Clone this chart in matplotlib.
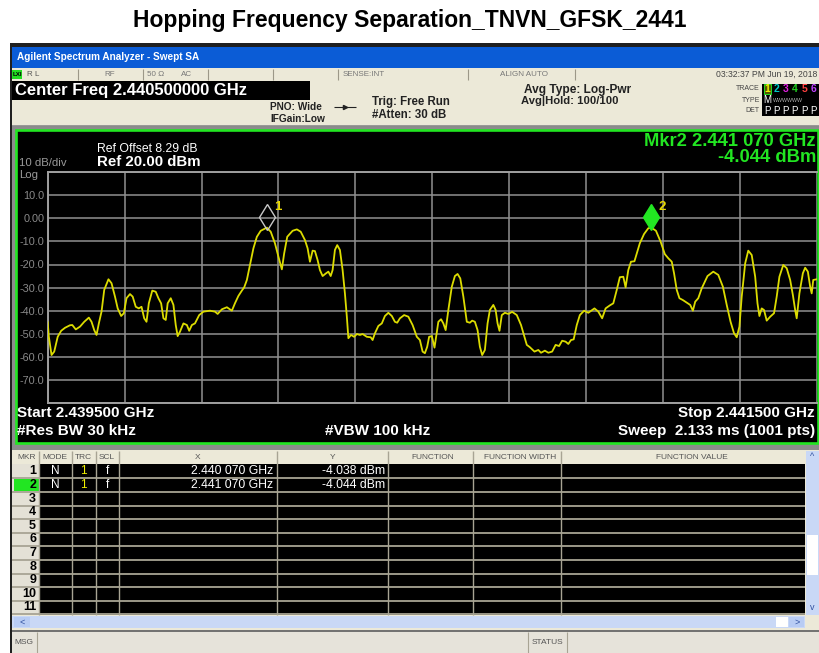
import matplotlib
matplotlib.use('Agg')
import matplotlib.pyplot as plt
import numpy as np
from matplotlib.patches import Rectangle
from matplotlib.transforms import offset_copy

plt.rcParams['font.family'] = ['Liberation Sans', 'DejaVu Sans']

# trace: offset from start freq (kHz) and level (dBm)
offset_khz = [0, 3, 10, 17, 26, 35, 45, 58, 64, 73, 84, 95, 107, 114, 121, 127,
              133, 140, 147, 158, 166, 175, 182, 191, 198, 205, 214, 221, 229, 237,
              244, 251, 257, 263, 272, 281, 288, 295, 301, 307, 312, 320, 327, 333,
              338, 344, 353, 362, 368, 375, 383, 394, 405, 422, 435, 442, 453, 466,
              479, 487, 496, 505, 511, 518, 526, 535, 544, 554, 570, 580, 591, 600,
              609, 615, 623, 637, 648, 658, 669, 676, 682, 689, 695, 702, 708, 715,
              724, 730, 736, 741, 747, 753, 760, 767, 773, 778, 782, 789, 797, 804,
              812, 819, 830, 840, 845, 851, 860, 869, 877, 886, 895, 903, 909, 916,
              927, 938, 949, 960, 968, 975, 981, 987, 992, 999, 1006, 1016, 1023,
              1029, 1035, 1042, 1051, 1059, 1066, 1073, 1081, 1090, 1098, 1104, 1111,
              1118, 1124, 1130, 1137, 1144, 1150, 1159, 1165, 1170, 1175, 1181, 1189,
              1198, 1208, 1220, 1231, 1240, 1246, 1254, 1266, 1276, 1283, 1293, 1302,
              1312, 1321, 1330, 1338, 1347, 1354, 1361, 1368, 1376, 1384, 1395, 1406,
              1422, 1432, 1442, 1451, 1462, 1471, 1480, 1488, 1497, 1503, 1510, 1517,
              1526, 1532, 1540, 1551, 1562, 1570, 1582, 1594, 1605, 1614, 1623, 1629,
              1636, 1643, 1652, 1662, 1671, 1678, 1684, 1692, 1701, 1716, 1731, 1744,
              1756, 1766, 1776, 1785, 1792, 1799, 1805, 1814, 1822, 1831, 1840, 1846,
              1851, 1857, 1863, 1870, 1879, 1889, 1896, 1903, 1913, 1922, 1931, 1938,
              1944, 1948, 1955, 1964, 1970, 1977, 1983, 1987, 1991, 2000]
level_dbm = [-45.0, -51.3, -59.2, -57.7, -51.3, -48.7, -47.4, -46.3, -46.2, -48.1,
             -46.9, -44.8, -43.0, -44.8, -48.4, -50.5, -45.5, -40.4, -31.0, -26.4,
             -28.1, -33.9, -39.0, -42.3, -41.1, -34.6, -32.8, -33.9, -38.3, -39.0,
             -38.3, -43.3, -44.8, -36.8, -31.3, -31.8, -34.6, -36.8, -43.3, -44.0,
             -36.8, -34.6, -37.5, -46.2, -51.0, -49.1, -45.5, -46.2, -48.7, -46.2,
             -45.5, -41.9, -40.4, -40.0, -40.4, -41.4, -39.4, -38.5, -40.0, -36.8,
             -33.6, -31.3, -29.9, -26.7, -20.2, -13.0, -8.0, -5.4, -4.04, -5.8,
             -10.8, -16.6, -22.1, -15.2, -8.0, -5.4, -4.8, -5.8, -9.4, -13.0, -18.8,
             -14.0, -14.2, -18.1, -22.4, -25.0, -23.8, -23.1, -25.0, -22.4, -13.7,
             -11.6, -13.7, -22.4, -32.5, -42.6, -51.9, -50.5, -51.3, -50.1, -50.5,
             -50.1, -51.3, -51.5, -52.7, -49.8, -46.6, -45.5, -42.3, -40.9, -42.3,
             -44.8, -45.2, -43.3, -41.9, -42.6, -46.2, -51.3, -52.7, -57.7, -58.4,
             -55.6, -51.3, -51.0, -56.0, -44.8, -43.7, -45.5, -48.4, -39.7, -29.6,
             -25.0, -24.1, -26.0, -33.9, -44.8, -45.2, -44.3, -44.8, -48.4, -55.6,
             -59.2, -57.0, -45.5, -39.7, -37.5, -39.7, -45.5, -48.7, -41.9, -40.9,
             -41.4, -40.5, -41.9, -46.2, -51.3, -54.8, -55.8, -57.7, -57.0, -58.2,
             -57.3, -58.2, -57.7, -54.8, -55.3, -53.0, -53.4, -54.4, -52.7, -52.4,
             -46.2, -41.9, -40.0, -40.9, -39.0, -40.4, -43.3, -39.0, -37.7, -36.8,
             -31.0, -25.5, -25.3, -29.9, -22.4, -18.8, -18.6, -15.2, -10.8, -6.8,
             -4.3, -4.044, -5.4, -10.1, -15.5, -17.3, -18.8, -23.8, -31.0, -34.6,
             -35.4, -36.5, -37.5, -40.0, -36.1, -34.6, -30.3, -25.0, -23.1, -24.5,
             -29.6, -37.5, -44.8, -49.8, -51.5, -46.9, -33.9, -19.5, -14.0, -15.9,
             -25.3, -36.8, -42.3, -39.0, -39.7, -44.3, -42.6, -41.1, -33.9, -25.3,
             -20.2, -21.6, -26.7, -33.2, -39.7, -43.3, -32.5, -23.8, -21.4, -23.1,
             -29.6, -32.5, -26.7, -26.4]

start_ghz = 2.4395
stop_ghz = 2.4415
ref_level = 20
bottom_level = -80

marker_freq = [2.440070, 2.441070]
marker_level = [-4.038, -4.044]
marker_x_text = ['2.440 070 GHz', '2.441 070 GHz']
marker_y_text = ['-4.038 dBm', '-4.044 dBm']

ytick_labels = ['', '-70.0', '-60.0', '-50.0', '-40.0', '-30.0', '-20.0', '-10.0',
                '0.00', '10.0', '']
table_cols = ['MKR', 'MODE', 'TRC', 'SCL', 'X', 'Y', 'FUNCTION', 'FUNCTION WIDTH',
              'FUNCTION VALUE']

BEIGE = '#ECE9D8'
W, H = 819, 653

fig = plt.figure(figsize=(W / 100, H / 100), dpi=100)
fig.patch.set_facecolor('white')
bg = fig.add_axes([0, 0, 1, 1])
bg.set_xlim(0, W)
bg.set_ylim(H, 0)
bg.axis('off')


def box(x0, y0, x1, y1, fc, ec='none', lw=0, z=1):
    bg.add_patch(Rectangle((x0, y0), x1 - x0, y1 - y0, facecolor=fc,
                           edgecolor=ec, linewidth=lw, zorder=z))


def txt(x, y, s, size=7, color='black', weight='normal', ha='left', z=5, **kw):
    bg.text(x, y, s, fontsize=size, color=color, fontweight=weight, ha=ha,
            va='center', zorder=z, **kw)


def line(xs, ys, color, lw=0.8, z=3):
    bg.plot(xs, ys, color=color, lw=lw, zorder=z, solid_capstyle='butt')


# title
txt(410, 21, 'Hopping Frequency Separation_TNVN_GFSK_2441', size=16.5,
    weight='bold', ha='center')

# window frame
box(10, 43, 819, 653, '#202020')
box(12, 47, 819, 68, '#0B5CD6')
txt(17, 57.5, 'Agilent Spectrum Analyzer - Swept SA', size=7.2, color='white',
    weight='bold')

# status row
box(12, 68, 819, 80, BEIGE)
box(12, 70, 22, 79, '#22DD22', z=2)
txt(17, 74.5, 'LXI', size=4.5, weight='bold', ha='center')
for sx in [78, 143, 208, 273, 338, 468, 575]:
    line([sx, sx], [69, 80], '#9c9888')
txt(27, 74.5, 'R L', size=5.8, color='#555555')
txt(110, 74.5, 'RF', size=5.8, color='#777777', ha='center')
txt(147, 74.5, '50 Ω', size=5.8, color='#777777')
txt(187, 74.5, 'AC', size=5.8, color='#777777', ha='center')
txt(343, 74.5, 'SENSE:INT', size=5.8, color='#777777')
txt(500, 74.5, 'ALIGN AUTO', size=5.8, color='#777777')
txt(817, 74.5, '03:32:37 PM Jun 19, 2018', size=6.2, color='#444444', ha='right')

# info panel
box(12, 80, 819, 126, BEIGE)
line([12, 819], [125.5, 125.5], '#8a8a8a', lw=1.2)
box(12, 81, 310, 100, 'black', z=2)
txt(15, 91, 'Center Freq 2.440500000 GHz', size=12, color='white', weight='bold')
txt(270, 107, 'PNO: Wide', size=7.3, weight='bold', color='#222222')
txt(270, 118.5, 'IFGain:Low', size=7.3, weight='bold', color='#222222')
line([334, 356], [107, 107], '#222222', lw=0.8)
bg.plot([345], [107], marker='>', ms=3, color='#222222', zorder=4)
txt(372, 102.5, 'Trig: Free Run', size=8.3, weight='bold', color='#222222')
txt(372, 115, '#Atten: 30 dB', size=8.3, weight='bold', color='#222222')
txt(578, 90, 'Avg Type: Log-Pwr', size=8.6, weight='bold', color='#222222', ha='center')
txt(570, 101.5, 'Avg|Hold: 100/100', size=8.1, weight='bold', color='#222222',
    ha='center')
txt(760, 88.5, 'TRACE', size=5, color='#444444', ha='right')
txt(760, 100, 'TYPE', size=5, color='#444444', ha='right')
txt(760, 111, 'DET', size=5, color='#444444', ha='right')
box(762, 84, 819, 116, 'black', z=2)
trace_colors = ['#F0F000', '#00C8C8', '#E020E0', '#20D020', '#FF4040', '#C040FF']
for i, c in enumerate(trace_colors):
    tx = 767 + i * 9.3
    if i == 0:
        box(tx - 3.5, 83.5, tx + 3.5, 93.5, '#555500', ec='#22DD22', lw=0.7, z=3)
    txt(tx, 88.5, str(i + 1), size=7.5, color=c, weight='bold', ha='center')
    txt(tx, 111, 'P', size=7, color='white', ha='center')
txt(767, 100, 'M', size=7, color='white', ha='center')
txt(773, 100, 'WWWWWW', size=3.8, color='#b0b0b0')

# plot panel
box(12, 126, 819, 450, '#8c8c8c')
box(15.5, 129.5, 817.5, 442.5, 'black', ec='#22E622', lw=1.9, z=2)
txt(97, 148.5, 'Ref Offset 8.29 dB', size=8.8, color='white')
txt(97, 162.5, 'Ref 20.00 dBm', size=10.8, color='white', weight='bold')
txt(19, 163.5, '10 dB/div', size=8.2, color='#9a9a9a')
txt(19, 175, 'Log', size=8.2, color='#9a9a9a')
txt(816, 141, 'Mkr2 2.441 070 GHz', size=13.2, color='#22E622', weight='bold',
    ha='right')
txt(816, 158, '-4.044 dBm', size=13.2, color='#22E622', weight='bold', ha='right')
txt(17, 413, 'Start 2.439500 GHz', size=11, color='white', weight='bold')
txt(17, 431, '#Res BW 30 kHz', size=11, color='white', weight='bold')
txt(378, 431, '#VBW 100 kHz', size=11, color='white', weight='bold', ha='center')
txt(815, 413, 'Stop 2.441500 GHz', size=11, color='white', weight='bold',
    ha='right')
txt(815, 431, 'Sweep  2.133 ms (1001 pts)', size=11, color='white', weight='bold',
    ha='right')

# spectrum axes
gx0, gx1, gy0, gy1 = 47.7, 816.7, 172.1, 403.1
ax = fig.add_axes([gx0 / W, (H - gy1) / H, (gx1 - gx0) / W, (gy1 - gy0) / H])
ax.set_facecolor('black')
ax.set_xlim(start_ghz, stop_ghz)
ax.set_ylim(bottom_level, ref_level)
ax.set_xticks(np.linspace(start_ghz, stop_ghz, 11))
ax.set_yticks(range(bottom_level, ref_level + 1, 10))
ax.set_xticklabels([])
ax.set_yticklabels(ytick_labels)
ax.tick_params(length=0, pad=2.5, labelsize=7.8, labelcolor='#8a8a8a')
ax.grid(True, color='#909090', lw=1.1)
for sp in ax.spines.values():
    sp.set_color('#a0a0a0')
    sp.set_linewidth(1.4)
ax.spines['right'].set_visible(False)
freq_ghz = [start_ghz + k * 1e-6 for k in offset_khz]
ax.plot(freq_ghz, level_dbm, color='#DCDC00', lw=1.3, zorder=4)

up = offset_copy(ax.transData, fig=fig, x=0, y=8, units='points')
ax.plot(marker_freq[0], marker_level[0], marker='d', ms=13.5, mfc='none',
        mec='#c8c8c8', mew=1.0, transform=up, zorder=5)
ax.plot(marker_freq[1], marker_level[1], marker='d', ms=13.5, mfc='#22E622',
        mec='#22E622', transform=up, zorder=5)
lab = offset_copy(ax.transData, fig=fig, x=8, y=15, units='points')
for i in range(2):
    ax.text(marker_freq[i], marker_level[i], str(i + 1), transform=lab,
            color='#E8D800', fontsize=9.5, fontweight='bold', ha='center',
            va='center', zorder=6)

# marker table
box(12, 450, 819, 630, BEIGE)
box(12, 451, 805, 464, BEIGE)
col_edges = [12, 39, 72, 96, 119, 277, 388, 473, 561, 805]
col_centers = [27, 55, 83, 107, 198, 333, 433, 520, 692]
for name, cx in zip(table_cols, col_centers):
    txt(cx, 457.5, name, size=6, color='#555555', ha='center')
box(39, 464, 805, 615, 'black')
box(12, 464, 39, 615, '#E4E1D6')
row_h = 13.6
for r in range(11):
    cy = 471.5 + r * row_h
    if r == 1:
        box(14, cy - 6, 39, cy + 6, '#22E622', z=2)
    txt(36, cy, str(r + 1), size=9, weight='bold', ha='right')
    line([12, 805], [cy + row_h / 2, cy + row_h / 2], '#A8A494', lw=1.3)
for cxe in col_edges[1:-1]:
    line([cxe, cxe], [451, 615], '#A8A494', lw=1.0)
for i in range(2):
    cy = 471.5 + i * row_h
    txt(55, cy, 'N', size=8.5, color='white', ha='center')
    txt(83, cy, '1', size=8.5, color='#F0F000', ha='center')
    txt(107, cy, 'f', size=8.5, color='white', ha='center')
    txt(273, cy, marker_x_text[i], size=8.8, color='white', ha='right')
    txt(385, cy, marker_y_text[i], size=8.8, color='white', ha='right')

# scroll bars
box(12, 616, 805, 628, '#C9D8F6')
box(14, 617, 30, 627, '#B8CCF4')
txt(22, 622, '<', size=6.5, color='#3050A0', ha='center')
box(776, 617, 788, 627, 'white')
box(789, 617, 804, 627, '#B8CCF4')
txt(797, 622, '>', size=6.5, color='#3050A0', ha='center')
box(806, 451, 819, 615, '#C9D8F6')
box(807, 535, 818, 575, 'white')
txt(812.5, 457, '^', size=6.5, color='#3050A0', ha='center')
txt(812.5, 607, 'v', size=6.5, color='#3050A0', ha='center')

# bottom status bar
box(12, 630, 819, 653, '#E6E3DA')
line([12, 819], [630.5, 630.5], '#707070', lw=1.4)
line([37, 37], [632, 653], '#A8A494')
line([528, 528], [632, 653], '#A8A494')
line([567, 567], [632, 653], '#A8A494')
txt(14, 643, 'MSG', size=6, color='#555555')
txt(547.5, 643, 'STATUS', size=6, color='#555555', ha='center')

fig.savefig('out.png', dpi=100, facecolor='white')
